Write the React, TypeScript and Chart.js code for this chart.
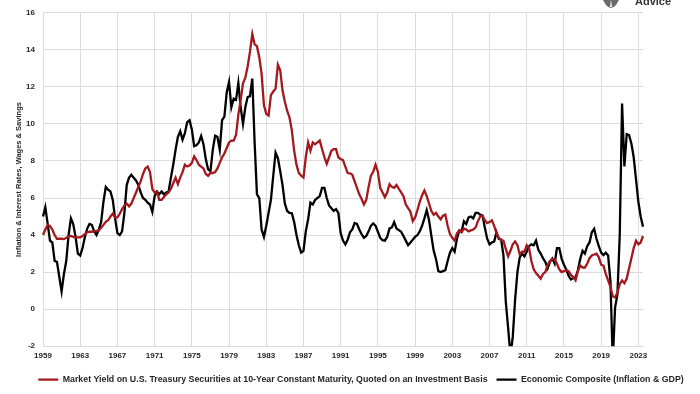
import { useEffect, useRef } from 'react';
import { Chart, registerables } from 'chart.js';

Chart.register(...registerables);

// Quarterly categories, 1959 Q1 .. 2023 Q3
const quarters: string[] = Array.from({ length: 259 }, (_, i) => `${1959 + Math.floor(i / 4)} Q${(i % 4) + 1}`);

// Labels shown every 4 years (every 16 quarters)
const yearTicks = ['1959', '1963', '1967', '1971', '1975', '1979', '1983', '1987', '1991', '1995', '1999', '2003', '2007', '2011', '2015', '2019', '2023'];

const yTicks = [-2, 0, 2, 4, 6, 8, 10, 12, 14, 16];

// Market Yield on U.S. Treasury Securities at 10-Year Constant Maturity (%)
const treasuryYield = [
  4.0, 4.3, 4.55, 4.5, 4.3, 4.0, 3.8, 3.8, 3.8, 3.78, 3.85, 3.92, 3.95, 3.9, 3.87, 3.87,
  3.88, 3.95, 4.05, 4.15, 4.18, 4.18, 4.2, 4.22, 4.25, 4.4, 4.55, 4.72, 4.8, 5.0, 5.15, 4.95,
  4.95, 5.15, 5.4, 5.6, 5.7, 5.55, 5.7, 6.0, 6.3, 6.6, 6.9, 7.3, 7.6,
  7.7, 7.4, 6.5, 6.3, 6.35, 5.9, 5.9, 6.05, 6.2, 6.3, 6.5, 6.8, 7.1, 6.75, 7.1, 7.4,
  7.8, 7.7, 7.75, 7.9, 8.25, 8.05, 7.8, 7.7, 7.6, 7.3, 7.2, 7.35, 7.35, 7.4, 7.6, 7.9,
  8.2, 8.4, 8.7, 9.0, 9.1, 9.1, 9.4,
  10.5, 11.3, 12.2, 12.5, 13.1, 13.9, 14.85, 14.3, 14.2, 13.6, 12.7, 11.0, 10.55, 10.45, 11.55, 11.75,
  11.9, 13.2, 12.9, 11.8, 11.2, 10.7, 10.35, 9.65, 8.55, 7.8, 7.35, 7.2, 7.1, 8.2, 9.0, 8.55,
  9.0, 8.9, 9.0, 9.1, 8.65, 8.2, 7.85, 8.2, 8.55, 8.64, 8.64, 8.2,
  8.1, 8.05, 7.7, 7.35, 7.33, 7.25, 6.9, 6.55, 6.2, 5.95, 5.65, 5.9, 6.6, 7.2, 7.42, 7.8,
  7.42, 6.55, 6.3, 6.05, 6.3, 6.75, 6.6, 6.55, 6.7, 6.5, 6.3, 6.1, 5.65, 5.45, 5.26, 4.75,
  4.95, 5.35, 5.8, 6.15, 6.4, 6.1, 5.7, 5.3, 5.1, 5.2, 5.0, 4.85,
  5.05, 5.1, 4.5, 4.05, 3.85, 3.7, 4.1, 4.25, 4.15, 4.35, 4.3, 4.2, 4.25, 4.3, 4.4, 4.75,
  5.0, 5.05, 4.8, 4.65, 4.7, 4.8, 4.5, 4.1, 3.85, 3.73, 3.7, 3.25, 2.85, 3.15, 3.5, 3.65,
  3.45, 2.95, 3.1, 3.1, 3.45, 3.3, 2.6, 2.15, 1.95, 1.8, 1.65, 1.9,
  2.0, 2.4, 2.6, 2.7, 2.7, 2.45, 2.15, 2.0, 2.05, 2.1, 2.05, 1.85, 1.75, 1.56, 2.05, 2.35,
  2.25, 2.25, 2.45, 2.75, 2.9, 2.95, 3.0, 2.8, 2.4, 2.35, 1.9, 1.55, 1.2, 0.7, 0.63, 0.9,
  1.35, 1.55, 1.4, 1.65, 2.2, 2.75, 3.3, 3.7, 3.5, 3.6, 3.95,
];

// Economic Composite (Inflation & GDP), %
const economicComposite = [
  5.0, 5.5, 4.6, 3.7, 3.6, 2.6, 2.55, 1.75, 0.95, 1.9, 2.6, 4.0, 4.9, 4.6, 3.9, 3.0,
  2.9, 3.3, 3.9, 4.35, 4.6, 4.55, 4.2, 4.0, 4.3, 4.7, 5.8, 6.6, 6.45, 6.35, 5.9, 4.9,
  4.1, 4.0, 4.2, 5.2, 6.7, 7.1, 7.25, 7.1, 6.95, 6.7, 6.3, 6.0, 5.9,
  5.75, 5.65, 5.25, 6.1, 6.35, 6.2, 6.35, 6.2, 6.3, 6.35, 7.1, 7.8, 8.6, 9.3, 9.6, 9.15,
  9.5, 10.1, 10.2, 9.7, 8.8, 8.85, 9.0, 9.35, 8.9, 8.1, 7.55, 7.45, 8.6, 9.36, 9.3, 8.6,
  10.2, 10.4, 11.7, 12.27, 10.9, 11.36, 11.3, 12.2, 10.9,
  10.0, 10.9, 11.45, 11.5, 12.45, 9.0, 6.2, 6.0, 4.3, 3.9, 4.5, 5.2, 5.9, 7.2, 8.45, 8.15,
  7.45, 6.7, 5.7, 5.3, 5.2, 5.18, 4.7, 4.0, 3.45, 3.05, 3.15, 4.2, 4.85, 5.75, 5.65, 5.9,
  6.0, 6.1, 6.55, 6.55, 6.0, 5.6, 5.45, 5.3, 5.4, 5.2,
  4.1, 3.7, 3.5, 3.75, 4.15, 4.3, 4.65, 4.6, 4.3, 4.05, 3.85, 3.95, 4.2, 4.5, 4.63, 4.5,
  4.18, 3.85, 3.72, 3.7, 3.9, 4.36, 4.41, 4.7, 4.36, 4.27, 4.18, 3.95, 3.7, 3.45, 3.6, 3.75,
  3.9, 4.0, 4.2, 4.5, 4.9, 5.35, 4.8, 3.95, 3.15, 2.7, 2.05, 2.0,
  2.05, 2.1, 2.6, 3.05, 3.3, 3.1, 3.8, 4.25, 4.2, 4.75, 4.6, 4.95, 5.0, 4.9, 5.2, 5.2,
  5.1, 5.05, 4.4, 3.8, 3.5, 3.6, 3.65, 4.15, 3.8, 3.75, 2.9, 0.4, -1.0, -2.5, -1.5, 0.5,
  2.0, 2.8, 3.0, 2.85, 3.1, 3.4, 3.5, 3.45, 3.7, 3.2, 3.0, 2.75,
  2.55, 2.2, 2.55, 2.73, 2.46, 3.3, 3.3, 2.73, 2.4, 2.15, 1.8, 1.6, 1.68, 1.72, 2.1, 2.7,
  3.15, 3.0, 3.4, 3.6, 4.15, 4.34, 3.8, 3.4, 3.05, 2.92, 3.05, 2.9, 1.5, -2.8, 0.1, 0.8,
  4.0, 11.1, 7.7, 9.45, 9.4, 8.95, 8.2, 7.0, 5.8, 5.0, 4.45,
];

const FONT = "'Liberation Sans', Arial, sans-serif";
const GRID = '#dcdcdc';
const TEXT = '#262626';

// Nudges the (full-width) legend a little to the right, as in the original layout
const legendShift = {
  id: 'legendShift',
  afterLayout(chart: any) {
    const lg = chart.legend;
    if (lg) {
      lg.left += 11;
      lg.right += 11;
    }
  },
};

export default function App() {
  const ref = useRef<HTMLCanvasElement>(null);

  useEffect(() => {
    if (!ref.current) return;
    const chart = new Chart(ref.current, {
      type: 'line',
      data: {
        labels: quarters,
        datasets: [
          {
            label: 'Market Yield on U.S. Treasury Securities at 10-Year Constant Maturity, Quoted on an Investment Basis',
            data: treasuryYield,
            borderColor: '#A3191D',
            backgroundColor: '#A3191D',
            borderWidth: 2.3,
            pointRadius: 0,
            tension: 0,
          },
          {
            label: 'Economic Composite (Inflation & GDP)',
            data: economicComposite,
            borderColor: '#000000',
            backgroundColor: '#000000',
            borderWidth: 2.3,
            pointRadius: 0,
            tension: 0,
          },
        ],
      },
      plugins: [legendShift],
      options: {
        animation: false,
        responsive: false,
        devicePixelRatio: 1,
        layout: { padding: { left: 0, right: 0, top: 8, bottom: 0 } },
        plugins: {
          legend: {
            position: 'bottom',
            labels: {
              usePointStyle: true,
              pointStyle: 'line',
              pointStyleWidth: 20,
              color: TEXT,
              padding: 9,
              font: { family: FONT, size: 8.8, weight: 'bold' },
            },
          },
          tooltip: { enabled: false },
        },
        scales: {
          x: {
            type: 'category',
            border: { display: false },
            grid: {
              drawTicks: false,
              lineWidth: 1,
              color: (c: any) => (c.index % 16 === 0 ? GRID : 'rgba(0,0,0,0)'),
            },
            ticks: {
              autoSkip: false,
              maxRotation: 0,
              minRotation: 0,
              padding: 5,
              color: TEXT,
              font: { family: FONT, size: 8, weight: 'bold' },
              callback: (_v: any, i: number) => (i % 16 === 0 ? yearTicks[i / 16] : ''),
            },
            afterFit: (s: any) => {
              s.height = 20;
            },
          },
          y: {
            min: yTicks[0],
            max: yTicks[yTicks.length - 1],
            border: { display: false },
            grid: { drawTicks: false, color: GRID, lineWidth: 1 },
            ticks: {
              stepSize: 2,
              padding: 8,
              color: TEXT,
              font: { family: FONT, size: 8, weight: 'bold' },
            },
            title: {
              display: true,
              text: 'Inflation & Interest Rates, Wages & Savings',
              color: TEXT,
              font: { family: FONT, size: 7.5, weight: 'bold' },
              padding: { top: 14, bottom: 0 },
            },
            afterFit: (s: any) => {
              s.width = 43;
            },
          },
          // empty right-hand spacer so the plot stops where the original does
          spacer: {
            type: 'linear',
            position: 'right',
            display: true,
            border: { display: false },
            grid: { display: false },
            ticks: { display: false },
            afterFit: (s: any) => {
              s.width = 57;
            },
          },
        },
      },
    });
    return () => chart.destroy();
  }, []);

  return (
    <div style={{ position: 'fixed', left: 0, top: 0, width: 700, height: 394, background: '#ffffff', overflow: 'hidden' }}>
      <canvas ref={ref} width={700} height={394} style={{ display: 'block' }} />
      <svg width={18} height={10} style={{ position: 'absolute', left: 602, top: 0 }} viewBox="0 0 18 10">
        <path d="M1 0 L17 0 L14 5 Q9 11 4 5 Z" fill="#6b6b6b" />
        <path d="M9 0 L10 7 L8 7 Z" fill="#ffffff" />
      </svg>
      <div
        style={{
          position: 'absolute',
          left: 635,
          top: -5,
          fontFamily: "'Liberation Sans', Arial, sans-serif",
          fontWeight: 'bold',
          fontSize: 11,
          color: '#333',
          lineHeight: '13px',
        }}
      >
        Advice
      </div>
    </div>
  );
}
